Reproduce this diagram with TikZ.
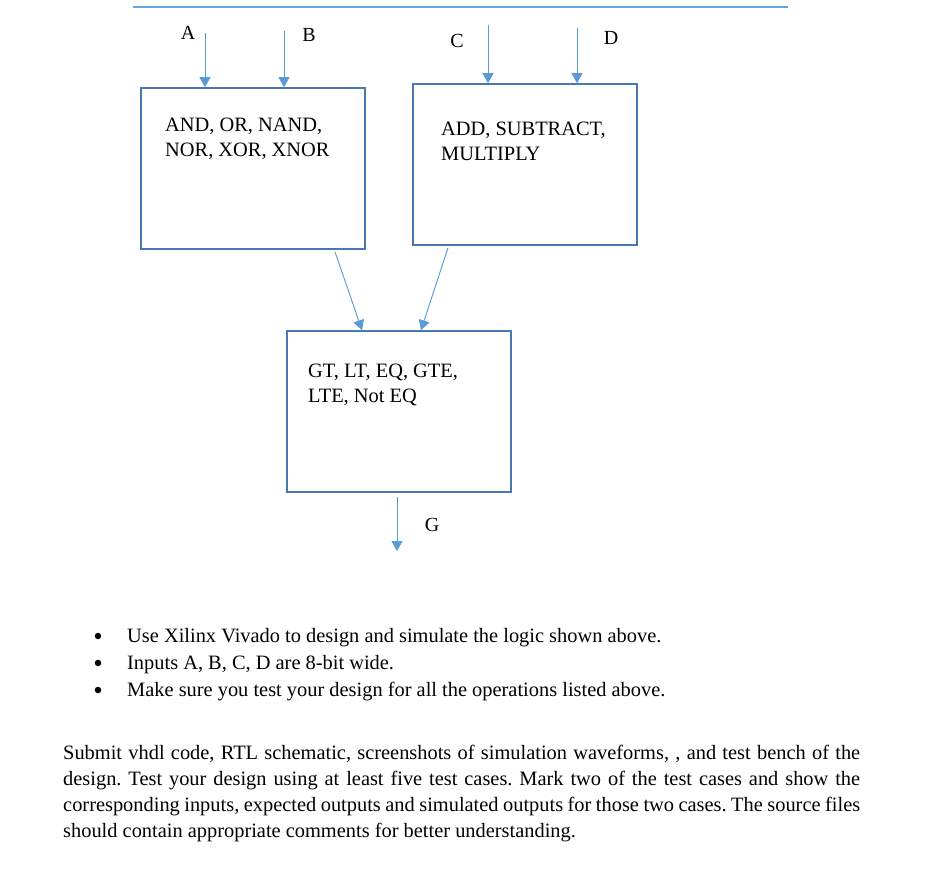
\documentclass[tikz,border=0pt]{standalone}
\usepackage{fontspec}
\setmainfont{Liberation Serif}
\usepackage{tikz}
\usetikzlibrary{arrows.meta,positioning}
\definecolor{boxblue}{RGB}{74,120,178}
\definecolor{arrblue}{RGB}{91,155,213}
\definecolor{ruleblue}{RGB}{100,162,224}
\newcommand{\bodysize}{\fontsize{20.4}{26}\selectfont}

\begin{document}
\frenchspacing
\begin{tikzpicture}[
  x=1pt, y=-1pt,
  opbox/.style={draw=boxblue, line width=1.6pt, minimum width=224pt, minimum height=161pt, inner sep=0pt},
  optext/.style={anchor=base west, align=left, inner sep=0pt, font=\fontsize{20.4}{25}\selectfont},
  pin/.style={inner sep=0pt, font=\fontsize{20}{24}\selectfont},
  arr/.style={-{Triangle[width=11pt,length=10pt]}, draw=arrblue, fill=arrblue, line width=0.9pt},
  bodytext/.style={anchor=base west, inner sep=0pt, font=\bodysize},
  dot/.style={circle, fill=black, inner sep=0pt, minimum size=6.5pt}
]
\useasboundingbox (0,0) rectangle (926,878);

\coordinate (ruleL) at (133,7);
\coordinate (ruleR) at (788,7);
\draw[ruleblue, line width=1.2pt] (ruleL) -- (ruleR);

% operation blocks
\node[opbox] (logic) at (253,168.5) {};
\node[opbox] (arith) at (525,164.5) {};
\node[opbox] (cmp) at (399,411.5) {};

\node[optext] (logictxt) at (165,156) {AND, OR, NAND,\\NOR, XOR, XNOR};
\node[optext] (arithtxt) at (441,160) {ADD, SUBTRACT,\\MULTIPLY};
\node[optext] (cmptxt) at (308,402) {GT, LT, EQ, GTE,\\LTE, Not EQ};

% inputs
\coordinate (inA) at (205,33);
\coordinate (inB) at (284,31);
\coordinate (inC) at (488,25);
\coordinate (inD) at (577,28);
\node[pin] (labA) at (188,33) {A};
\node[pin] (labB) at (309,35) {B};
\node[pin] (labC) at (457,41) {C};
\node[pin] (labD) at (611,38) {D};

\draw[arr] (inA) -- ([xshift=-48pt]logic.north);
\draw[arr] (inB) -- ([xshift=31pt]logic.north);
\draw[arr] (inC) -- ([xshift=-37pt]arith.north);
\draw[arr] (inD) -- ([xshift=52pt]arith.north);

\draw[arr] ([xshift=82pt,yshift=-2pt]logic.south) -- ([xshift=-37pt]cmp.north);
\draw[arr] ([xshift=-77pt,yshift=-2pt]arith.south) -- ([xshift=22pt]cmp.north);

% output
\coordinate (outG) at (397,551);
\draw[arr] ([xshift=-2pt,yshift=-4pt]cmp.south) -- (outG);
\node[pin] (labG) at (432,525) {G};

% notes
\node[dot] (b1) at (98,636) {};
\node[dot] (b2) at (98,663) {};
\node[dot] (b3) at (98,690) {};
\node[bodytext] (t1) at (127,642) {Use Xilinx Vivado to design and simulate the logic shown above.};
\node[bodytext] (t2) at (127,669) {Inputs A, B, C, D are 8-bit wide.};
\node[bodytext] (t3) at (127,696) {Make sure you test your design for all the operations listed above.};

\node[anchor=north west, inner sep=0pt, text width=797pt, align=justify, font=\bodysize] (para) at (63,745)
  {Submit vhdl code, RTL schematic, screenshots of simulation waveforms, , and test bench of the\linebreak
   design. Test your design using at least five test cases. Mark two of the test cases and show the\linebreak
   corresponding inputs, expected outputs and simulated outputs for those two cases. The source files\linebreak
   should contain appropriate comments for better understanding.};
\end{tikzpicture}
\end{document}
